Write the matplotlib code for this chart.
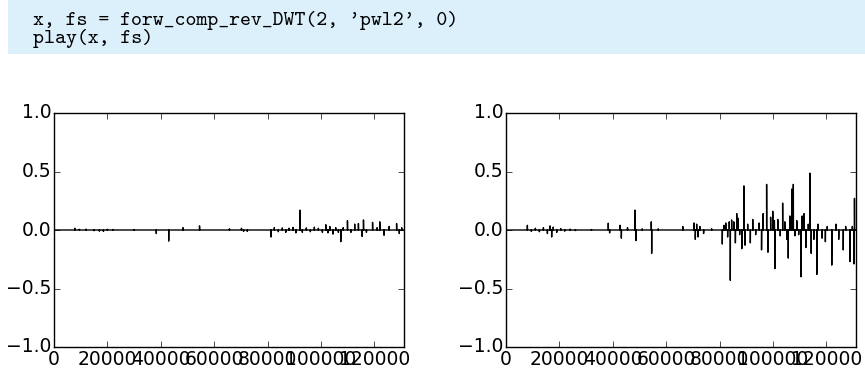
import numpy as np
import matplotlib
matplotlib.use('Agg')
import matplotlib.pyplot as plt
from matplotlib.patches import Rectangle

# signal length (samples) and the code cell shown above the plots
n_samples = 131072
code_lines = ["x, fs = forw_comp_rev_DWT(2, 'pwl2', 0)", "play(x, fs)"]

# left panel: sample index and value of the visible spikes (rest is ~0)
left_pos = [7800, 9500, 12000, 15000, 17000, 18500, 20000, 22000, 30000,
            38300, 42950, 48300, 54500, 65700, 70200, 71000, 72400,
            81300, 82500, 84000, 85500, 86800, 88000, 89500, 90600, 92100,
            93000, 94500, 96000, 97500, 99000, 100500, 101800, 102600, 103300,
            104500, 105500, 106500, 107400, 108300, 109900, 111200, 112600,
            114000, 115400, 115900, 117000, 119300, 121000, 122000, 123600,
            125500, 128300, 129300, 130200]
left_amp = [0.015, 0.006, 0.008, -0.006, -0.01, -0.012, 0.006, 0.004, 0.003,
            -0.03, -0.095, 0.02, 0.035, 0.01, 0.015, -0.012, -0.012,
            -0.06, 0.02, -0.015, 0.018, -0.02, 0.015, 0.022, -0.025, 0.17,
            -0.02, 0.018, -0.015, 0.025, 0.015, -0.02, 0.045, -0.025, 0.03,
            -0.035, 0.02, -0.02, -0.1, 0.02, 0.08, -0.02, 0.05,
            0.055, -0.055, 0.086, -0.02, 0.065, 0.02, 0.07, -0.045,
            0.03, 0.055, -0.03, 0.02]

# right panel: sample index and value of the visible spikes
right_pos = [8000, 9500, 11000, 12500, 14000, 15500, 16500, 17100, 17700,
             19000, 20500, 22000, 24000, 26000, 32000, 38300, 38800, 42700,
             43200, 45500, 48300, 48700, 51000, 54400, 54550, 57000, 66200,
             70400, 70900, 71400, 71900, 72600, 74000, 77000,
             81000, 81600, 82300, 83000, 83600, 84000, 84500, 85300, 85900,
             86400, 86900, 87500, 88300, 89100, 89500, 90500, 91500, 92400,
             93500, 94800, 95700, 96300, 97600, 98100, 99100, 99900, 100500,
             100700, 101800, 102700, 103600, 104400, 105200, 105700, 106300,
             107000, 107600, 108200, 108900, 109600, 110500, 110900, 111600,
             112300, 113200, 113800, 114300, 115300, 116400, 116800, 118400,
             119600, 120300, 122000, 123600, 124600, 126300, 127200, 128800,
             129700, 130300, 130500]
right_amp = [0.04, -0.012, 0.015, -0.015, 0.02, -0.03, 0.035, -0.06, 0.025,
             -0.02, 0.012, -0.01, 0.008, -0.005, 0.004, 0.058, -0.025, 0.04,
             -0.07, 0.02, 0.17, -0.09, 0.01, 0.07, -0.2, 0.01, 0.03,
             0.06, -0.08, 0.05, -0.06, 0.03, -0.03, 0.01,
             -0.12, 0.04, 0.06, -0.06, 0.07, -0.43, 0.086, 0.07, -0.11,
             0.14, 0.1, -0.04, -0.16, 0.377, -0.13, 0.05, -0.11, 0.09,
             -0.04, 0.06, -0.17, 0.14, 0.39, -0.19, 0.11, 0.16, 0.08,
             -0.33, 0.09, -0.05, 0.23, 0.07, -0.08, -0.24, 0.12,
             0.35, 0.39, -0.05, 0.08, -0.04, -0.40, 0.12, 0.14,
             -0.15, 0.05, 0.486, -0.2, -0.08, -0.38, 0.05, -0.07,
             -0.1, 0.03, -0.30, 0.05, -0.08, -0.17, 0.03, -0.27,
             0.03, -0.29, 0.27]

plt.style.use('classic')
plt.rcParams['figure.facecolor'] = 'white'
plt.rcParams['savefig.facecolor'] = 'white'

fig = plt.figure(figsize=(8.65, 3.70), dpi=100)

# code cell at the top
fig.patches.append(Rectangle((8 / 865, 1 - 54 / 370), 1 - 8 / 865, 54 / 370,
                             transform=fig.transFigure, facecolor='#dcf0fb',
                             edgecolor='none', zorder=0))
fig.text(33 / 865, 1 - 25 / 370, code_lines[0], family='cmtt10', fontsize=15,
         va='baseline', ha='left')
fig.text(33 / 865, 1 - 43 / 370, code_lines[1], family='cmtt10', fontsize=15,
         va='baseline', ha='left')

t = np.arange(n_samples)
panels = [(54, left_pos, left_amp), (506, right_pos, right_amp)]
for left_px, pos, amp in panels:
    sig = np.zeros(n_samples)
    sig[pos] = amp
    ax = fig.add_axes([left_px / 865, 23 / 370, 350 / 865, 234 / 370])
    ax.plot(t, sig, color='k', linewidth=1.0)
    ax.set_xlim(0, n_samples)
    ax.set_ylim(-1, 1)
    ax.set_xticks([0, 20000, 40000, 60000, 80000, 100000, 120000])
    ax.set_yticks([-1.0, -0.5, 0.0, 0.5, 1.0])
    ax.tick_params(labelsize=13.5, pad=2)

fig.savefig('out.png', dpi=100)
